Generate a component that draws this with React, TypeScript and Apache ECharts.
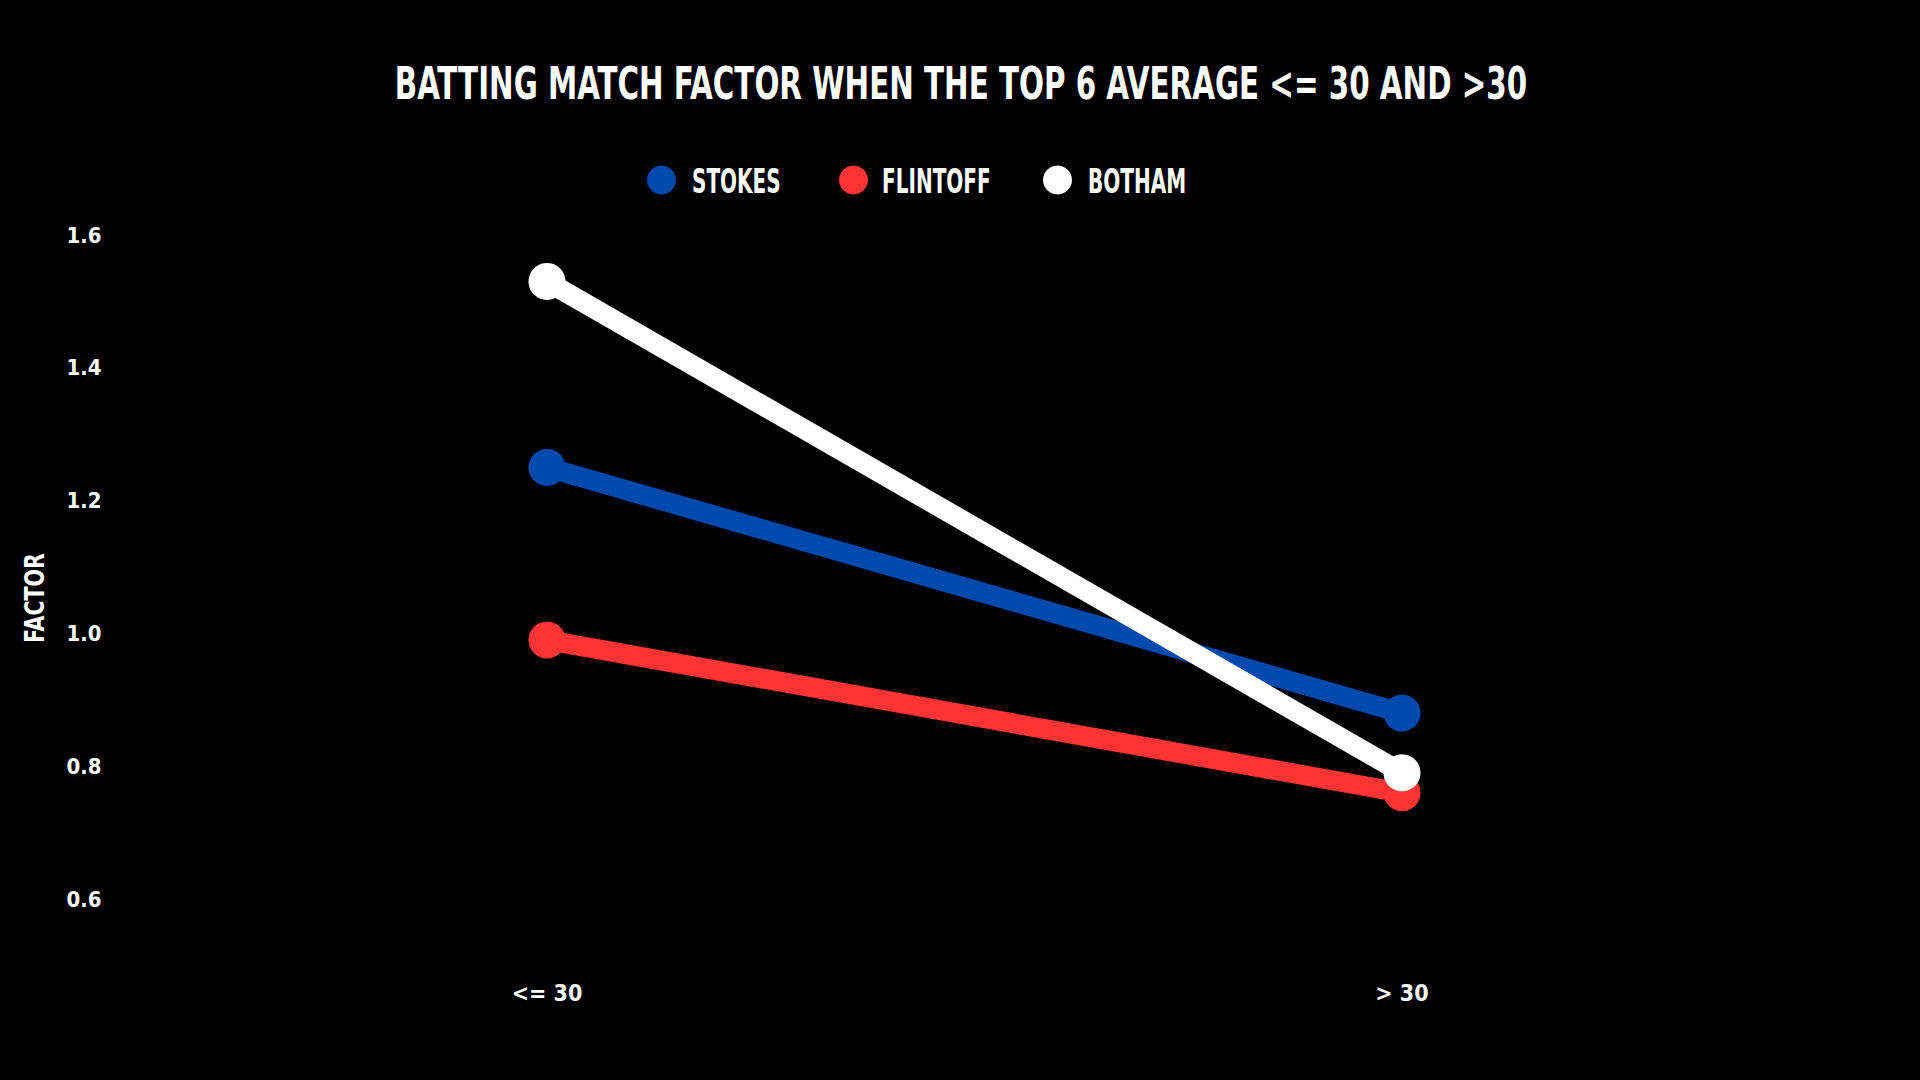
import React, { useEffect, useRef } from "react";
import * as echarts from "echarts";

const categories = ["<= 30", "> 30"];
const stokes = [1.25, 0.88];
const flintoff = [0.99, 0.76];
const botham = [1.53, 0.79];
const seriesNames = ["STOKES", "FLINTOFF", "BOTHAM"];
const colors = ["#004AAD", "#FF3333", "#FFFFFF"];
const titleText = "BATTING MATCH FACTOR WHEN THE TOP 6 AVERAGE <= 30 AND >30";

const NARROW = "'DejaVu Sans Condensed', 'Liberation Sans Narrow', sans-serif";

export default function App() {
  const ref = useRef<HTMLDivElement>(null);
  useEffect(() => {
    document.body.style.margin = "0";
    document.body.style.background = "#000";
    const chart = echarts.init(ref.current!, null, { renderer: "svg" });
    const data = [stokes, flintoff, botham];
    const dotX = [661.5, 853.5, 1057.5];
    const textX = [692, 882, 1088];
    const legendGraphics: any[] = [];
    seriesNames.forEach((name, i) => {
      legendGraphics.push({
        type: "circle",
        shape: { cx: dotX[i], cy: 180, r: 14.5 },
        style: { fill: colors[i] },
      });
      legendGraphics.push({
        type: "text",
        x: textX[i],
        y: 181,
        scaleX: 0.655,
        style: {
          text: name,
          fill: "#fff",
          font: "bold 34px " + NARROW,
          align: "left",
          verticalAlign: "middle",
        },
      });
    });
    chart.setOption({
      animation: false,
      backgroundColor: "#000000",
      grid: { left: 119.5, right: 90.5, top: 235, bottom: 181 },
      xAxis: {
        type: "category",
        data: categories,
        boundaryGap: true,
        axisLine: { show: false },
        axisTick: { show: false },
        splitLine: { show: false },
        axisLabel: { color: "#fff", fontFamily: NARROW, fontWeight: "bold", fontSize: 23, margin: 82 },
      },
      yAxis: {
        type: "value",
        min: 0.6,
        max: 1.6,
        interval: 0.2,
        axisLine: { show: false },
        axisTick: { show: false },
        splitLine: { show: false },
        axisLabel: {
          color: "#fff",
          fontFamily: NARROW,
          fontWeight: "bold",
          fontSize: 22,
          margin: 18,
          formatter: (v: number) => v.toFixed(1),
        },
      },
      graphic: [
        {
          type: "text",
          x: 961,
          y: 84,
          scaleX: 0.742,
          style: {
            text: titleText,
            fill: "#fff",
            font: "bold 44px " + NARROW,
            align: "center",
            verticalAlign: "middle",
          },
        },
        ...legendGraphics,
        {
          type: "text",
          x: 35,
          y: 598,
          rotation: Math.PI / 2,
          scaleX: 0.88,
          style: {
            text: "FACTOR",
            fill: "#fff",
            font: "bold 26px " + NARROW,
            align: "center",
            verticalAlign: "middle",
          },
        },
      ],
      series: seriesNames.map((name, i) => ({
        name,
        type: "line",
        data: data[i],
        symbol: "circle",
        symbolSize: 37,
        lineStyle: { width: 20, color: colors[i] },
        itemStyle: { color: colors[i] },
        emphasis: { disabled: true },
      })),
    });
    return () => chart.dispose();
  }, []);
  return (
    <div
      ref={ref}
      style={{ position: "absolute", left: 0, top: 0, width: 1920, height: 1080, background: "#000" }}
    />
  );
}
